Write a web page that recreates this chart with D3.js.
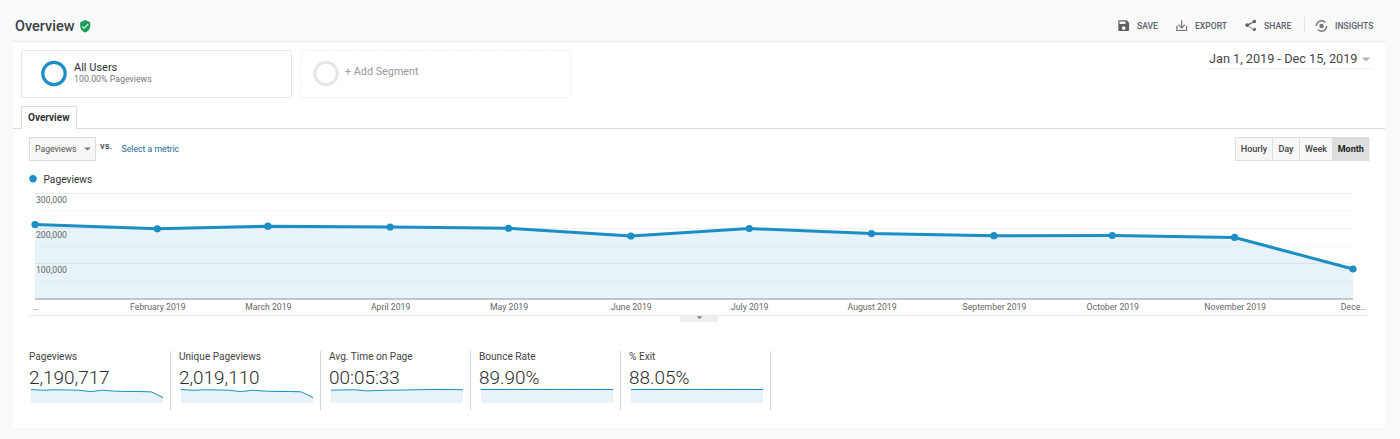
<!DOCTYPE html>
<html><head><meta charset="utf-8">
<script src="https://cdn.jsdelivr.net/npm/d3@7/dist/d3.min.js"></script>
<style>
html,body{margin:0;padding:0;background:#f7f9fb;overflow:hidden}
svg{display:block}
text{font-family:Roboto,sans-serif}
</style></head><body><svg id="c" width="1400" height="439"></svg>
<script>
const months = ["2019-01-01","2019-02-01","2019-03-01","2019-04-01","2019-05-01","2019-06-01","2019-07-01","2019-08-01","2019-09-01","2019-10-01","2019-11-01","2019-12-01"];
const monthLabels = ["…","February 2019","March 2019","April 2019","May 2019","June 2019","July 2019","August 2019","September 2019","October 2019","November 2019","Dece…"];
const pageviews = [209600,197500,205000,202500,199000,177000,198000,184000,178000,178500,173000,83500];
const uniquePageviews = [192000,181000,188000,186000,182000,162000,182000,169000,164000,164000,159000,77000];
const avgTimeSeconds = [325,332,336,306,318,326,328,335,340,342,340,335];
const bounceRate = [90,90,90,90,90,90,90,90,90,90,90,90];
const exitRate = [88,88,88,88,88,88,88,88,88,88,88,88];
const yTicks = [100000,200000,300000];
const gridTicks = [50000,100000,150000,200000,250000,300000];
const metricNames = ["Pageviews","Unique Pageviews","Avg. Time on Page","Bounce Rate","% Exit"];
const metricValues = ["2,190,717","2,019,110","00:05:33","89.90%","88.05%"];
const metricSeries = [pageviews,uniquePageviews,avgTimeSeconds,bounceRate,exitRate];
const intervals = ["Hourly","Day","Week","Month"];

const BLUE="#1b8ec4";
const svg=d3.select("#c");
const dates=months.map(d=>new Date(d+"T00:00:00Z"));
const rect=(x,y,w,h,fill,stroke,extra={})=>{const r=svg.append("rect").attr("x",x).attr("y",y).attr("width",w).attr("height",h).attr("fill",fill).attr("stroke",stroke||"none");for(const k in extra)r.attr(k,extra[k]);return r;};
const label=(s,x,y,size,fill,weight,anchor)=>svg.append("text").attr("x",x).attr("y",y).attr("font-size",size).attr("fill",fill).attr("font-weight",weight||400).attr("text-anchor",anchor||"start").text(s);
const icon=(d,x,y,scale,fill)=>svg.append("path").attr("d",d).attr("transform",`translate(${x},${y}) scale(${scale})`).attr("fill",fill);

// page card
rect(13,42,1372,386,"#fff");
svg.append("line").attr("x1",13).attr("x2",1385).attr("y1",41.5).attr("y2",41.5).attr("stroke","#e6e8ea");

// header
label("Overview",15,31,14.5,"#3c4043",500);
icon("M12 1L3 5v6c0 5.5 3.8 10.7 9 12 5.2-1.3 9-6.5 9-12V5l-9-4zm-2 16l-4-4 1.4-1.4L10 14.2l6.6-6.6L18 9l-8 8z",78.5,19.5,0.56,"#1e9e5a");

// toolbar
icon("M17 3H5c-1.1 0-2 .9-2 2v14c0 1.1.9 2 2 2h14c1.1 0 2-.9 2-2V7l-4-4zm-5 16c-1.66 0-3-1.34-3-3s1.34-3 3-3 3 1.34 3 3-1.34 3-3 3zm3-10H5V5h10v4z",1116.5,18.5,0.6,"#616161");
label("SAVE",1137,29.3,8.6,"#5f6368",500);
icon("M19 12v7H5v-7H3v9h18v-9zM11 3v10.2L7.4 9.6 6 11l6 6 6-6-1.4-1.4-3.6 3.6V3z",1174.5,18.5,0.6,"#757575");
label("EXPORT",1195,29.3,8.6,"#5f6368",500);
icon("M18 16.1c-.8 0-1.4.3-2 .8l-7.1-4.2c.1-.2.1-.5.1-.7s0-.5-.1-.7L16 7.2c.5.5 1.2.8 2 .8 1.7 0 3-1.3 3-3s-1.3-3-3-3-3 1.3-3 3c0 .2 0 .5.1.7L8 8.8C7.5 8.3 6.8 8 6 8c-1.7 0-3 1.3-3 3s1.3 3 3 3c.8 0 1.5-.3 2-.8l7.1 4.2c-.1.2-.1.4-.1.6 0 1.6 1.3 2.9 2.9 2.9s2.9-1.3 2.9-2.9-1.2-2.9-2.9-2.9z",1243.5,18.5,0.6,"#616161");
label("SHARE",1264,29.3,8.6,"#5f6368",500);
svg.append("line").attr("x1",1304.5).attr("x2",1304.5).attr("y1",17).attr("y2",33).attr("stroke","#e2e2e2");
svg.append("circle").attr("cx",1321.5).attr("cy",26).attr("r",5.2).attr("fill","none").attr("stroke","#757575").attr("stroke-width",1.4).attr("stroke-dasharray","12 4");
svg.append("circle").attr("cx",1321.5).attr("cy",26).attr("r",2.2).attr("fill","#757575");
label("INSIGHTS",1335,29.3,8.6,"#5f6368",500);

// segments
rect(21.5,50.5,270,47,"#fff","#e6e6e6",{rx:2});
svg.append("circle").attr("cx",54).attr("cy",73.5).attr("r",11.2).attr("fill","none").attr("stroke",BLUE).attr("stroke-width",3.2);
label("All Users",74,71,11,"#333");
label("100.00% Pageviews",74,81.5,8.8,"#777");
rect(300.5,50.5,270,47,"#fff","#eeeeee",{rx:2,"stroke-dasharray":"2 1"});
svg.append("circle").attr("cx",326).attr("cy",73.5).attr("r",11.2).attr("fill","none").attr("stroke","#e6e6e6").attr("stroke-width",3);
label("+ Add Segment",345,75.3,10.8,"#999");

// date range
label("Jan 1, 2019 - Dec 15, 2019",1209,63.2,12.7,"#444");
svg.append("path").attr("d","M1361.5 57.5h9l-4.5 4z").attr("fill","#b5b5b5");
svg.append("line").attr("x1",1207).attr("x2",1373).attr("y1",68.5).attr("y2",68.5).attr("stroke","#eeeeee");

// tab row
svg.append("line").attr("x1",13).attr("x2",1385).attr("y1",128.5).attr("y2",128.5).attr("stroke","#dcdcdc");
svg.append("path").attr("d","M21.5 128.5V106.5H76.5V128.5").attr("fill","#fff").attr("stroke","#dcdcdc");
svg.append("line").attr("x1",22).attr("x2",76).attr("y1",128.5).attr("y2",128.5).attr("stroke","#fff");
label("Overview",28,120.5,10,"#333",700);

// metric picker
rect(29.5,137.5,66,23,"#f7f7f7","#dcdcdc");
label("Pageviews",35,151.5,8.7,"#555");
svg.append("path").attr("d","M84 147.5h7l-3.5 3z").attr("fill","#777");
label("vs.",100,149.3,9.5,"#444",500);
label("Select a metric",121.5,151.5,8.7,"#1c6a94");

// interval buttons
const btnX=[1235.5,1272.5,1299.5,1332.5,1369];
intervals.forEach((s,i)=>{
  const on=s==="Month";
  rect(btnX[i],137.5,btnX[i+1]-btnX[i],23,on?"#dedede":"#f7f7f7","#dedede");
  label(s,(btnX[i]+btnX[i+1])/2,151.8,9,on?"#222":"#444",on?700:500,"middle");
});

// legend
svg.append("circle").attr("cx",33).attr("cy",178.7).attr("r",3.7).attr("fill",BLUE);
label("Pageviews",43.5,183,10.2,"#333");

// main chart
const x=d3.scaleUtc().domain([dates[0],dates[11]]).range([35,1353]);
const y=d3.scaleLinear().domain([0,300000]).range([298.5,192.6]);
const g=svg.append("g");
g.append("g").selectAll("line").data(gridTicks).join("line")
  .attr("x1",35).attr("x2",1353).attr("y1",d=>Math.round(y(d))+.5).attr("y2",d=>Math.round(y(d))+.5)
  .attr("stroke",d=>d%100000?"#f7f7f7":"#eeeeee");
const series=dates.map((d,i)=>({d,v:pageviews[i]}));
g.append("path").datum(series).attr("fill",BLUE).attr("fill-opacity",.105)
  .attr("d",d3.area().x(p=>x(p.d)).y0(y(0)).y1(p=>y(p.v)));

const yAxis=d3.axisLeft(y).tickValues(yTicks).tickSize(0).tickFormat(d3.format(","));
const ya=g.append("g").attr("transform","translate(67,0)").call(yAxis);
ya.select(".domain").remove();
ya.selectAll("text").attr("font-family","Liberation Sans").attr("font-size",8.7).attr("fill","#666").attr("x",0).attr("dy","0.32em")
  .attr("transform","translate(0,7)").attr("text-anchor","end");

const xAxis=d3.axisBottom(x).tickValues(dates).tickSize(0).tickPadding(0).tickFormat((d,i)=>monthLabels[i]);
const xa=g.append("g").attr("transform","translate(0,298.5)").call(xAxis);
xa.select(".domain").attr("stroke","#8a8f94").attr("d","M35,0.5H1353");
xa.selectAll("text").attr("font-family","Liberation Sans").attr("font-size",8.7).attr("fill","#666").attr("y",5.5);

g.append("path").datum(series).attr("fill","none").attr("stroke",BLUE).attr("stroke-width",3)
  .attr("d",d3.line().x(p=>x(p.d)).y(p=>y(p.v)));
g.append("g").selectAll("circle").data(series).join("circle")
  .attr("cx",p=>x(p.d)).attr("cy",p=>y(p.v)).attr("r",3.6).attr("fill",BLUE);

svg.append("line").attr("x1",30).attr("x2",1368).attr("y1",315.5).attr("y2",315.5).attr("stroke","#e6e6e6");
rect(680,316,38,6,"#efefef");
svg.append("path").attr("d","M696.5 316.5h6l-3 2.5z").attr("fill","#777");

// metric tiles
const tileW=150, sparkW=132;
metricNames.forEach((name,i)=>{
  const left=20.5+tileW*i;
  label(name,left+8.5,360,10.1,"#444");
  label(metricValues[i],left+8.5,384,18.9,"#2b2b2b",300);
  const divX=170.5+tileW*i;
  svg.append("line").attr("x1",divX).attr("x2",divX).attr("y1",351).attr("y2",410).attr("stroke","#d4d4d4");
  const sx=d3.scaleUtc().domain([dates[0],dates[11]]).range([left+10.5,left+10.5+sparkW]);
  const sy=d3.scaleLinear().domain([0,d3.max(metricSeries[i])]).range([403,389.5]);
  const pts=dates.map((d,k)=>({d,v:metricSeries[i][k]}));
  svg.append("path").datum(pts).attr("fill",BLUE).attr("fill-opacity",.105)
    .attr("d",d3.area().x(p=>sx(p.d)).y0(sy(0)).y1(p=>sy(p.v)));
  svg.append("path").datum(pts).attr("fill","none").attr("stroke",BLUE).attr("stroke-width",1)
    .attr("d",d3.line().x(p=>sx(p.d)).y(p=>sy(p.v)));
});
</script></body></html>
